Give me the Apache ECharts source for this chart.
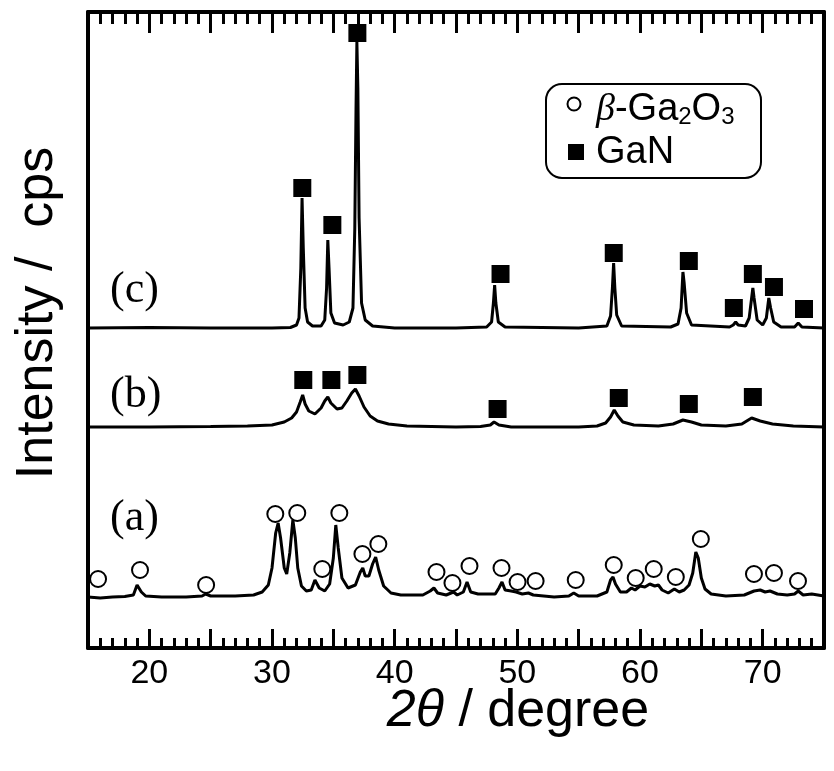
<!DOCTYPE html>
<html>
<head>
<meta charset="utf-8">
<script src="https://cdn.jsdelivr.net/npm/echarts@6/dist/echarts.min.js"></script>
<style>
    html, body { margin: 0; padding: 0; background: #fff; }
    #chart { width: 834px; height: 771px; }
</style>
</head>
<body>
<div id="chart"></div>
<script>
// 2θ (degree) and intensity, curves are offset as in the figure
var traceA = [
    [15, 51], [16, 50], [17, 51], [18, 51.5], [18.7, 53], [19.0, 63], [19.1, 65], [19.35, 56], [19.7, 52],
    [21, 51], [23, 51], [24.3, 52], [24.6, 54], [25, 52], [27, 52], [28.5, 53], [29.2, 56], [29.7, 63],
    [30.0, 80], [30.3, 115], [30.5, 125], [30.7, 110], [31.0, 80], [31.2, 74], [31.45, 95], [31.7, 128],
    [31.9, 110], [32.1, 80], [32.4, 62], [32.8, 57], [33.2, 58], [33.5, 68], [33.65, 70], [33.85, 60],
    [34.3, 57], [34.7, 64], [35.0, 90], [35.2, 123], [35.4, 100], [35.7, 70], [36.2, 60], [36.8, 63],
    [37.2, 76], [37.4, 80], [37.6, 72], [37.9, 72], [38.2, 84], [38.45, 91], [38.7, 78], [39.1, 62],
    [39.7, 55], [40.5, 53], [42.3, 53], [42.9, 57], [43.2, 60], [43.5, 55], [44.2, 53], [44.6, 55],
    [44.8, 56], [45.1, 53], [45.6, 56], [45.9, 66], [46.2, 56], [46.8, 54], [48.2, 54], [48.5, 60],
    [48.75, 66], [49.0, 58], [49.5, 57], [49.9, 56], [50.4, 54], [50.9, 55], [51.3, 53], [53, 51],
    [54.2, 52], [54.6, 55], [55.0, 52], [56.5, 52], [57.3, 56], [57.6, 68], [57.8, 71], [58.0, 64],
    [58.4, 56], [58.9, 56], [59.3, 60], [59.6, 58], [60.0, 62], [60.4, 61], [60.8, 64], [61.2, 62],
    [61.5, 63], [61.8, 58], [62.3, 55], [62.8, 59], [63.2, 56], [63.6, 58], [64.0, 63], [64.3, 75],
    [64.55, 96], [64.75, 90], [65.0, 70], [65.3, 59], [65.8, 54], [67, 52], [68.5, 53], [69.3, 57],
    [69.8, 58], [70.2, 56], [70.6, 57], [71.2, 54], [72, 53], [72.6, 54], [72.9, 57], [73.3, 53],
    [74, 54], [74.5, 53], [75, 52]
];
var traceB = [
    [15, 221], [20, 221], [25, 221.5], [28, 222], [30, 223], [31, 226], [31.6, 230], [32.0, 236],
    [32.3, 246], [32.5, 253], [32.7, 244], [33.0, 237], [33.5, 234], [34.0, 240], [34.3, 247],
    [34.55, 251], [34.8, 245], [35.3, 239], [35.7, 240], [36.1, 247], [36.5, 255], [36.8, 259],
    [37.1, 252], [37.5, 241], [38.0, 232], [38.6, 227], [39.5, 224], [41, 222], [45, 221], [47, 221.5],
    [47.8, 223], [48.1, 226], [48.5, 223], [49.5, 221], [55, 221], [56.5, 222], [57.2, 225], [57.6, 231],
    [57.9, 238], [58.2, 232], [58.6, 226], [59.5, 223], [61.5, 222], [62.7, 224], [63.5, 228],
    [64.2, 226], [65, 223], [67, 222], [68.3, 224], [69.1, 230], [69.8, 227], [70.8, 224], [72.5, 222],
    [75, 221]
];
var traceC = [
    [15, 320], [20, 320.5], [25, 320], [30, 320], [31.5, 320.5], [32.0, 323], [32.2, 330], [32.35, 380],
    [32.45, 450], [32.55, 400], [32.7, 340], [32.9, 326], [33.3, 322], [34.0, 322], [34.3, 328],
    [34.45, 360], [34.55, 408], [34.65, 380], [34.8, 335], [35.1, 325], [35.8, 323], [36.3, 326],
    [36.6, 340], [36.75, 420], [36.85, 540], [36.92, 606], [37.0, 560], [37.1, 430], [37.3, 345],
    [37.6, 328], [38.2, 322], [40, 320], [45, 320], [47.5, 321], [47.9, 326], [48.05, 345], [48.15, 363],
    [48.25, 345], [48.45, 326], [49, 321], [55, 320], [57.3, 322], [57.6, 332], [57.75, 360], [57.85, 385],
    [57.95, 360], [58.1, 333], [58.5, 322], [62.5, 321], [63.1, 324], [63.35, 340], [63.5, 376],
    [63.6, 365], [63.8, 335], [64.2, 323], [67.3, 321], [67.6, 323], [67.8, 326], [68.0, 323],
    [68.6, 322], [68.9, 330], [69.1, 350], [69.2, 360], [69.3, 350], [69.55, 328], [70.0, 323],
    [70.3, 330], [70.5, 350], [70.65, 340], [70.9, 326], [71.5, 321], [72.6, 321], [72.9, 325],
    [73.2, 321], [75, 320]
];

// 峰的标记位置
var ga2o3Marks = [
    [15.82, 69], [19.24, 78], [24.63, 63], [30.27, 134], [32.06, 135], [34.10, 79], [35.49, 135],
    [37.37, 94], [38.67, 104], [43.41, 76], [44.71, 65], [46.10, 82], [48.71, 80], [50.02, 66],
    [51.49, 67], [54.76, 68], [57.86, 83], [59.65, 70], [61.12, 79], [62.92, 71], [64.96, 109],
    [69.29, 74], [70.92, 75], [72.88, 67]
];
var ganMarks = [
    [32.55, 268], [34.84, 268], [36.96, 273], [48.39, 239], [58.27, 250], [63.98, 244], [69.20, 251],
    [32.47, 460], [34.92, 423], [36.96, 615], [48.63, 374], [57.86, 395], [63.98, 387], [67.65, 340],
    [69.20, 374], [70.92, 361], [73.37, 339]
];

var sampleLabels = ['(a)', '(b)', '(c)'];
var sampleLabelY = [520, 397, 292];

var xMin = 15, xMax = 75;

var myChart = echarts.init(document.getElementById('chart'));

function lineSeries(data) {
    return {
        type: 'line',
        data: data,
        showSymbol: false,
        symbol: 'none',
        smooth: false,
        lineStyle: { color: '#000', width: 3 },
        z: 2
    };
}

var tickStyle = { color: '#000', width: 3 };

var option = {
    animation: false,
    backgroundColor: '#fff',
    grid: { left: 88, right: 10, top: 12, bottom: 123 },
    xAxis: [{
        type: 'value',
        min: xMin,
        max: xMax,
        interval: 5,
        position: 'bottom',
        axisLine: { show: true, onZero: false, lineStyle: { color: '#000', width: 4 } },
        axisTick: { show: true, inside: true, length: 19, lineStyle: tickStyle },
        minorTick: { show: true, splitNumber: 5, length: 10, lineStyle: tickStyle },
        axisLabel: {
            color: '#000', fontFamily: 'Liberation Sans', fontSize: 34, margin: 9,
            formatter: function (v) { return v % 10 === 0 && v > xMin && v < xMax ? String(v) : ''; }
        },
        splitLine: { show: false }
    }, {
        type: 'value',
        min: xMin,
        max: xMax,
        interval: 5,
        position: 'top',
        axisLine: { show: true, onZero: false, lineStyle: { color: '#000', width: 4 } },
        axisTick: { show: true, inside: true, length: 21, lineStyle: tickStyle },
        minorTick: { show: true, splitNumber: 5, length: 12, lineStyle: tickStyle },
        axisLabel: { show: false },
        splitLine: { show: false }
    }],
    yAxis: [{
        type: 'value',
        min: 0,
        max: 636,
        position: 'left',
        axisLine: { show: true, onZero: false, lineStyle: { color: '#000', width: 4 } },
        axisTick: { show: false },
        axisLabel: { show: false },
        splitLine: { show: false }
    }, {
        type: 'value',
        min: 0,
        max: 636,
        position: 'right',
        axisLine: { show: true, onZero: false, lineStyle: { color: '#000', width: 4 } },
        axisTick: { show: false },
        axisLabel: { show: false },
        splitLine: { show: false }
    }],
    series: [
        lineSeries(traceA),
        lineSeries(traceB),
        lineSeries(traceC),
        {
            type: 'scatter',
            data: ga2o3Marks,
            symbol: 'circle',
            symbolSize: 16,
            itemStyle: { color: '#fff', borderColor: '#000', borderWidth: 2, opacity: 1 },
            z: 3
        },
        {
            type: 'scatter',
            data: ganMarks,
            symbol: 'rect',
            symbolSize: 18,
            itemStyle: { color: '#000', opacity: 1 },
            z: 3
        }
    ],
    graphic: []
};

// 坐标轴标题
option.graphic.push({
    type: 'text',
    x: 518,
    y: 712,
    style: {
        text: '{i|2θ} / degree',
        fill: '#000', font: '52px "Liberation Sans"', align: 'center', verticalAlign: 'middle',
        rich: { i: { font: 'italic 52px "Liberation Sans"', fill: '#000' } }
    }
});
option.graphic.push({
    type: 'text',
    x: 38,
    y: 313,
    rotation: Math.PI / 2,
    style: {
        text: 'Intensity /  cps',
        fill: '#000', font: '52px "Liberation Sans"', align: 'center', verticalAlign: 'middle'
    }
});

// (a) (b) (c)
sampleLabels.forEach(function (t, i) {
    option.graphic.push({
        type: 'text',
        left: 110,
        top: sampleLabelY[i] - 24,
        style: { text: t, fill: '#000', font: '44px "Liberation Serif"' }
    });
});

// 图例
option.graphic.push({
    type: 'group',
    left: 545,
    top: 83,
    children: [
        { type: 'rect', shape: { x: 0, y: 0, width: 215, height: 94, r: 16 },
          style: { fill: '#fff', stroke: '#000', lineWidth: 2 } },
        { type: 'circle', shape: { cx: 28, cy: 20, r: 6.5 },
          style: { fill: '#fff', stroke: '#000', lineWidth: 2 } },
        { type: 'text', x: 50, y: 26,
          style: {
              text: '{b|β}-Ga{s|2}O{s|3}',
              fill: '#000', font: '38px "Liberation Sans"', verticalAlign: 'middle',
              rich: {
                  b: { font: 'italic 38px "Liberation Serif"', fill: '#000' },
                  s: { font: '24px "Liberation Sans"', fill: '#000', verticalAlign: 'bottom', padding: [14, 0, 0, 0] }
              }
          } },
        { type: 'rect', shape: { x: 22, y: 60, width: 16, height: 16 }, style: { fill: '#000' } },
        { type: 'text', x: 50, y: 69,
          style: { text: 'GaN', fill: '#000', font: '38px "Liberation Sans"', verticalAlign: 'middle' } }
    ]
});

myChart.setOption(option);
</script>
</body>
</html>
